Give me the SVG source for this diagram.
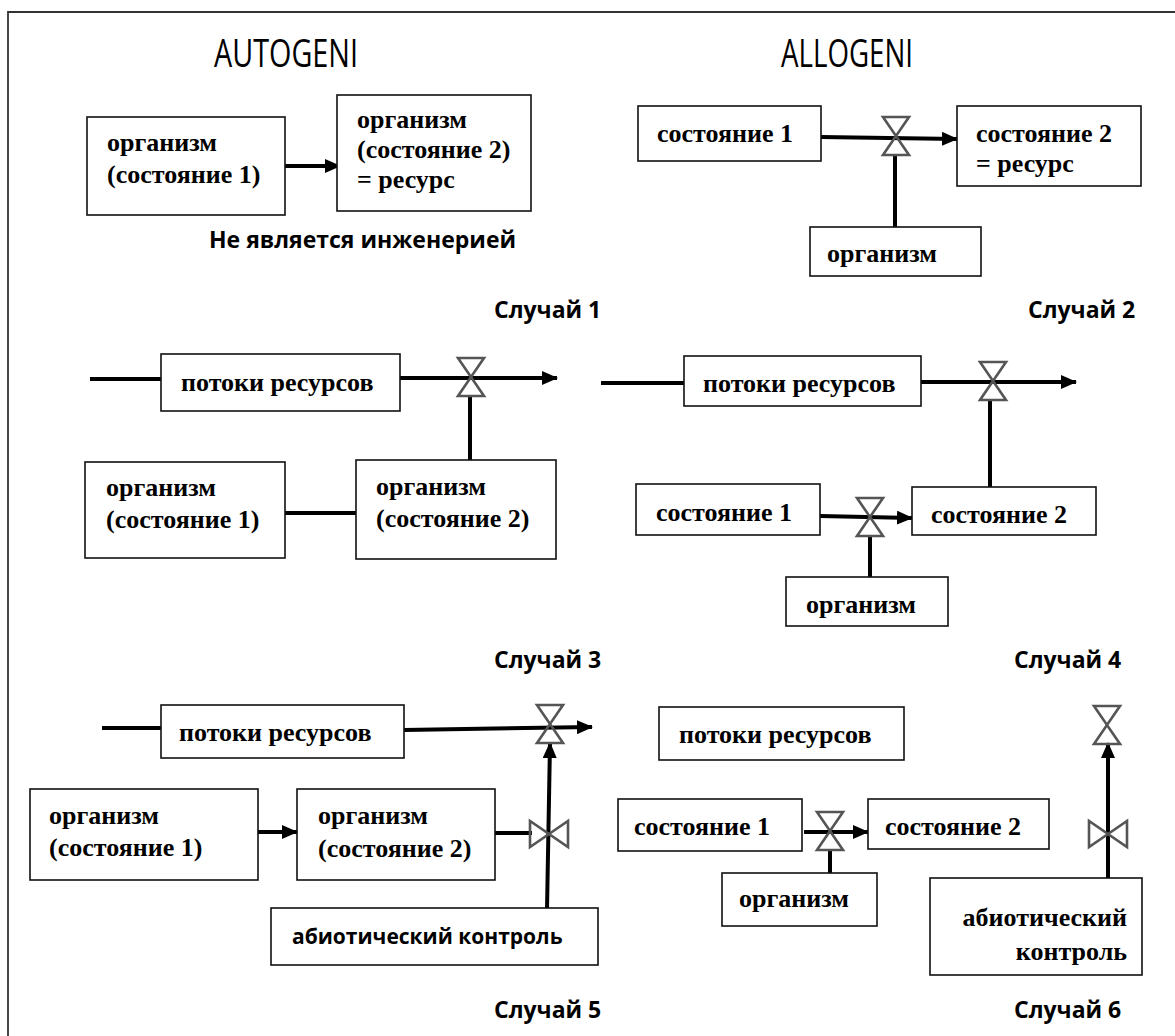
<svg xmlns="http://www.w3.org/2000/svg" xmlns:xlink="http://www.w3.org/1999/xlink" width="1175" height="1036" viewBox="0 0 1175 1036">
<style>
.box{fill:#fff;stroke:#111;stroke-width:1.6}
.t{font-family:"Liberation Serif","Times New Roman",serif;font-weight:bold;font-size:26px;fill:#000}
.s{font-family:"Open Sans","Noto Sans","DejaVu Sans",sans-serif;font-weight:bold;font-size:23px;fill:#000}
.h{font-family:"Open Sans","Noto Sans","DejaVu Sans",sans-serif;font-size:38px;fill:#000}
.ln{stroke:#000;stroke-width:4;fill:none}
.ar{stroke:#000;stroke-width:4;fill:none;marker-end:url(#ah)}
.v{fill:none;stroke:#555;stroke-width:2.6;stroke-linejoin:miter}
</style>
<defs>
<marker id="ah" markerUnits="userSpaceOnUse" markerWidth="16" markerHeight="14" viewBox="0 0 16 14" refX="15" refY="7" orient="auto">
<path d="M0,0 L16,7 L0,14 Z" fill="#000"/>
</marker>
<path id="vv" d="M-13,-19 L13,-19 L0,0 Z M0,0 L-13,19 L13,19 Z"/>
<path id="vh" d="M-19,-13 L-19,13 L0,0 Z M0,0 L19,-13 L19,13 Z"/>
</defs>
<rect width="1175" height="1036" fill="#fff"/>
<g id="frame"><path d="M8,1036 L8,12 L1175,12" fill="none" stroke="#333" stroke-width="1.8"/></g>
<g id="titles">
<text class="h" x="286" y="67" text-anchor="middle" textLength="144" lengthAdjust="spacingAndGlyphs">AUTOGENI</text>
<text class="h" x="847" y="67" text-anchor="middle" textLength="132" lengthAdjust="spacingAndGlyphs">ALLOGENI</text>
</g>
<g id="connectors">
<line class="ar" x1="285" y1="166" x2="340" y2="166"/>
<line class="ar" x1="821" y1="137" x2="957" y2="139"/>
<line class="ln" x1="895" y1="155" x2="895" y2="227"/>
<line class="ln" x1="90" y1="379" x2="161" y2="379"/>
<line class="ar" x1="400" y1="378" x2="557" y2="378"/>
<line class="ln" x1="470" y1="396" x2="470" y2="460"/>
<line class="ln" x1="285" y1="513" x2="356" y2="513"/>
<line class="ln" x1="601" y1="383" x2="684" y2="383"/>
<line class="ar" x1="921" y1="382" x2="1076" y2="382"/>
<line class="ln" x1="990" y1="400" x2="990" y2="487"/>
<line class="ar" x1="820" y1="516" x2="912" y2="518"/>
<line class="ln" x1="870" y1="536" x2="870" y2="577"/>
<line class="ln" x1="102" y1="728" x2="161" y2="728"/>
<line class="ar" x1="404" y1="730" x2="592" y2="727"/>
<line class="ar" x1="547" y1="910" x2="550" y2="743"/>
<line class="ar" x1="258" y1="832" x2="297" y2="832"/>
<line class="ln" x1="495" y1="833" x2="532" y2="833"/>
<line class="ar" x1="1108" y1="878" x2="1108" y2="743"/>
<line class="ar" x1="804" y1="832" x2="868" y2="832"/>
<line class="ln" x1="830" y1="850" x2="830" y2="873"/>
</g>
<g id="valves">
<use xlink:href="#vv" class="v" transform="translate(896,136)"/>
<use xlink:href="#vv" class="v" transform="translate(471,377)"/>
<use xlink:href="#vv" class="v" transform="translate(993,381)"/>
<use xlink:href="#vv" class="v" transform="translate(870,517)"/>
<use xlink:href="#vv" class="v" transform="translate(550,724)"/>
<use xlink:href="#vh" class="v" transform="translate(549,834)"/>
<use xlink:href="#vv" class="v" transform="translate(830,831)"/>
<use xlink:href="#vv" class="v" transform="translate(1107,725)"/>
<use xlink:href="#vh" class="v" transform="translate(1108,834)"/>
</g>
<g id="c1-org1"><rect class="box" x="87" y="117" width="198" height="98"/>
<text class="t" x="107" y="151">организм</text><text class="t" x="107" y="183">(состояние 1)</text></g>
<g id="c1-org2"><rect class="box" x="337" y="95" width="194" height="116"/>
<text class="t" x="357" y="128">организм</text><text class="t" x="357" y="158">(состояние 2)</text><text class="t" x="357" y="188">= ресурс</text></g>
<text class="s" x="209" y="248">Не является инженерией</text>
<text class="s" x="494" y="318">Случай 1</text>
<g id="c2-s1"><rect class="box" x="638" y="106" width="183" height="55"/><text class="t" x="657" y="142">состояние 1</text></g>
<g id="c2-s2"><rect class="box" x="957" y="106" width="184" height="80"/><text class="t" x="976" y="142">состояние 2</text><text class="t" x="976" y="172">= ресурс</text></g>
<g id="c2-org"><rect class="box" x="810" y="227" width="171" height="49"/><text class="t" x="827" y="262">организм</text></g>
<text class="s" x="1028" y="318">Случай 2</text>
<g id="c3-flow"><rect class="box" x="161" y="354" width="239" height="57"/><text class="t" x="181" y="391">потоки ресурсов</text></g>
<g id="c3-org1"><rect class="box" x="85" y="462" width="200" height="96"/><text class="t" x="106" y="496">организм</text><text class="t" x="106" y="528">(состояние 1)</text></g>
<g id="c3-org2"><rect class="box" x="356" y="460" width="200" height="99"/><text class="t" x="376" y="495">организм</text><text class="t" x="376" y="527">(состояние 2)</text></g>
<text class="s" x="494" y="668">Случай 3</text>
<g id="c4-flow"><rect class="box" x="684" y="356" width="237" height="50"/><text class="t" x="703" y="392">потоки ресурсов</text></g>
<g id="c4-s1"><rect class="box" x="636" y="484" width="184" height="51"/><text class="t" x="656" y="521">состояние 1</text></g>
<g id="c4-s2"><rect class="box" x="912" y="487" width="184" height="48"/><text class="t" x="931" y="523">состояние 2</text></g>
<g id="c4-org"><rect class="box" x="786" y="577" width="162" height="49"/><text class="t" x="806" y="613">организм</text></g>
<text class="s" x="1014" y="668">Случай 4</text>
<g id="c5-flow"><rect class="box" x="161" y="705" width="243" height="53"/><text class="t" x="179" y="741">потоки ресурсов</text></g>
<g id="c5-org1"><rect class="box" x="30" y="789" width="228" height="91"/><text class="t" x="49" y="824">организм</text><text class="t" x="49" y="856">(состояние 1)</text></g>
<g id="c5-org2"><rect class="box" x="297" y="789" width="198" height="91"/><text class="t" x="318" y="824">организм</text><text class="t" x="318" y="857">(состояние 2)</text></g>
<g id="c5-abio"><rect class="box" x="271" y="908" width="327" height="57"/><text class="s" x="292" y="944" style="font-size:21px">абиотический контроль</text></g>
<text class="s" x="494" y="1018">Случай 5</text>
<g id="c6-flow"><rect class="box" x="659" y="707" width="245" height="53"/><text class="t" x="679" y="743">потоки ресурсов</text></g>
<g id="c6-s1"><rect class="box" x="618" y="799" width="184" height="52"/><text class="t" x="634" y="835">состояние 1</text></g>
<g id="c6-s2"><rect class="box" x="868" y="799" width="181" height="50"/><text class="t" x="885" y="835">состояние 2</text></g>
<g id="c6-org"><rect class="box" x="722" y="873" width="155" height="53"/><text class="t" x="739" y="907">организм</text></g>
<g id="c6-abio"><rect class="box" x="930" y="878" width="212" height="97"/><text class="t" x="1127" y="926" text-anchor="end">абиотический</text><text class="t" x="1127" y="960" text-anchor="end">контроль</text></g>
<text class="s" x="1014" y="1018">Случай 6</text>
</svg>
